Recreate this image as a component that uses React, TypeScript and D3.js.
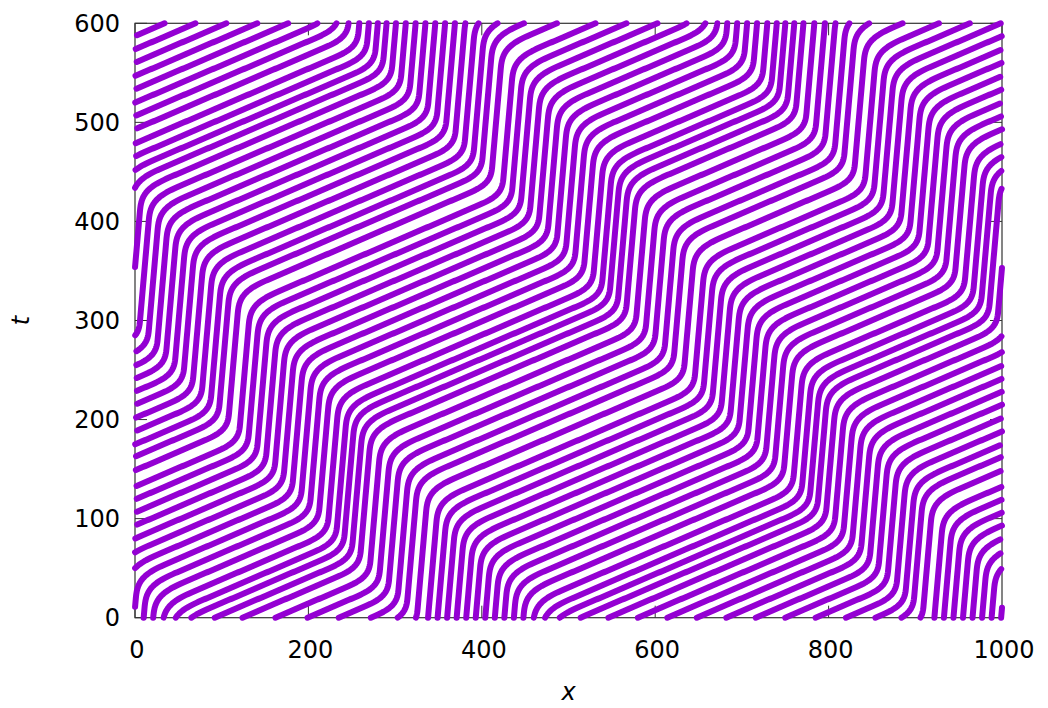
import { useEffect, useRef } from "react";
import * as d3 from "d3";

const roadLength = 1000;
const tMax = 600;
const xTicks = [0, 200, 400, 600, 800, 1000];
const tTicks = [0, 100, 200, 300, 400, 500, 600];

const startX = [
  10, 21, 33, 47, 65, 92, 124, 162, 199, 235, 272, 303, 324, 338, 349, 360,
  371, 382, 393, 404, 415, 426, 437, 448, 460, 473, 490, 514, 546, 580, 614,
  648, 682, 716, 750, 785, 820, 854, 884, 906, 922, 933, 944, 955, 966, 977,
  988, 999,
];

// edges of the two slow (jammed) zones, read at t = 0 and at t = 600
const jamUpAt0 = [338, 925];
const jamUpAt600 = [-323, 252];
const jamDownAt0 = [450, 1020];
const jamDownAt600 = [-203, 370];

const vFree = 2.65;
const vJam = 0.1;
const brakeLength = 65;
const accelLength = 80;

const smooth = (s: number) => s * s * (3 - 2 * s);

const speedAt = (x: number, t: number) => {
  let f = 1;
  for (let j = 0; j < jamUpAt0.length; j++) {
    const u = jamUpAt0[j] + ((jamUpAt600[j] - jamUpAt0[j]) * t) / tMax;
    const d = jamDownAt0[j] + ((jamDownAt600[j] - jamDownAt0[j]) * t) / tMax;
    const w = d - u;
    const r = (((x - u) % roadLength) + roadLength) % roadLength;
    let g = 1;
    if (r < w) g = 0;
    else if (r < w + accelLength) g = smooth((r - w) / accelLength);
    else if (r > roadLength - brakeLength)
      g = 1 - smooth((r - (roadLength - brakeLength)) / brakeLength);
    f = Math.min(f, g);
  }
  return vJam + (vFree - vJam) * f;
};

// follow one car through the speed field, cut where it wraps round the ring
const trajectory = (x0: number) => {
  const segments: [number, number][][] = [];
  let x = x0;
  let lap = Math.floor(x / roadLength);
  let current: [number, number][] = [];
  const dt = 0.25;
  const perStep = Math.round(1 / dt);
  for (let i = 0; i <= tMax * perStep; i++) {
    const t = i * dt;
    if (i % perStep === 0) {
      const l = Math.floor(x / roadLength);
      if (l !== lap) {
        if (current.length) segments.push(current);
        current = [];
        lap = l;
      }
      current.push([x - l * roadLength, t]);
    }
    const k1 = speedAt(x, t);
    const k2 = speedAt(x + k1 * dt * 0.5, t + dt * 0.5);
    x += k2 * dt;
  }
  if (current.length) segments.push(current);
  return segments;
};

const width = 1048;
const height = 708;
const margin = { top: 23.3, right: 46, bottom: 90.3, left: 135 };

export default function App() {
  const svgRef = useRef<SVGSVGElement>(null);

  useEffect(() => {
    document.body.style.margin = "0";
    const boundsWidth = width - margin.left - margin.right;
    const boundsHeight = height - margin.top - margin.bottom;

    const svg = d3.select(svgRef.current);
    svg.selectAll("*").remove();

    const xScale = d3.scaleLinear().domain([0, roadLength]).range([0, boundsWidth]);
    const yScale = d3.scaleLinear().domain([0, tMax]).range([boundsHeight, 0]);

    const g = svg
      .append("g")
      .attr("transform", `translate(${margin.left},${margin.top})`);

    const font = "'DejaVu Sans', sans-serif";
    const tickLen = 12;

    // border
    g.append("rect")
      .attr("x", 0)
      .attr("y", 0)
      .attr("width", boundsWidth)
      .attr("height", boundsHeight)
      .attr("fill", "none")
      .attr("stroke", "#333")
      .attr("stroke-width", 1.2);

    // ticks on all four sides, pointing inwards
    xTicks.forEach((v) => {
      const px = xScale(v);
      g.append("line").attr("x1", px).attr("x2", px).attr("y1", boundsHeight).attr("y2", boundsHeight - tickLen).attr("stroke", "#333");
      g.append("line").attr("x1", px).attr("x2", px).attr("y1", 0).attr("y2", tickLen).attr("stroke", "#333");
      g.append("text")
        .attr("x", px + 2)
        .attr("y", boundsHeight + 40)
        .attr("text-anchor", "middle")
        .style("font-family", font)
        .style("font-size", "24px")
        .text(v);
    });
    tTicks.forEach((v) => {
      const py = yScale(v);
      g.append("line").attr("x1", 0).attr("x2", tickLen).attr("y1", py).attr("y2", py).attr("stroke", "#333");
      g.append("line").attr("x1", boundsWidth).attr("x2", boundsWidth - tickLen).attr("y1", py).attr("y2", py).attr("stroke", "#333");
      g.append("text")
        .attr("x", -15)
        .attr("y", py)
        .attr("dy", "0.36em")
        .attr("text-anchor", "end")
        .style("font-family", font)
        .style("font-size", "24px")
        .text(v);
    });

    // car trajectories
    const line = d3
      .line<[number, number]>()
      .x((d) => xScale(d[0]))
      .y((d) => yScale(d[1]));

    startX.forEach((x0) => {
      trajectory(x0).forEach((seg) => {
        g.append("path")
          .datum(seg)
          .attr("fill", "none")
          .attr("stroke", "#9400d3")
          .attr("stroke-width", 6)
          .attr("stroke-linecap", "round")
          .attr("stroke-linejoin", "round")
          .attr("d", line);
      });
    });

    // axis labels
    g.append("text")
      .attr("x", boundsWidth / 2)
      .attr("y", boundsHeight + 82)
      .attr("text-anchor", "middle")
      .style("font-family", font)
      .style("font-size", "24px")
      .style("font-style", "italic")
      .text("x");

    g.append("text")
      .attr("transform", `translate(${-106},${boundsHeight / 2}) rotate(-90)`)
      .attr("text-anchor", "middle")
      .style("font-family", font)
      .style("font-size", "24px")
      .style("font-style", "italic")
      .text("t");
  }, []);

  return <svg ref={svgRef} width={width} height={height} style={{ display: "block" }}></svg>;
}
